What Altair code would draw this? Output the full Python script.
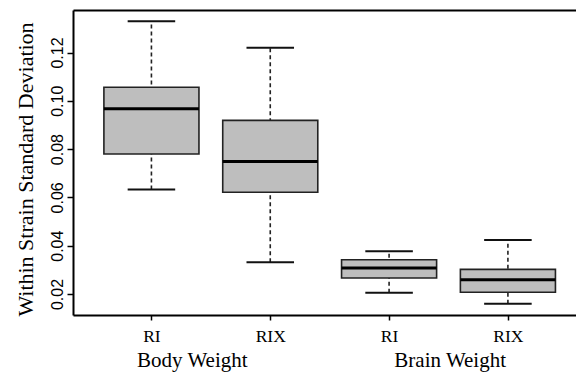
import json
import altair as alt
import pandas as pd

# ---- data ----
groups = ["Body Weight", "Body Weight", "Brain Weight", "Brain Weight"]
strains = ["RI", "RIX", "RI", "RIX"]
lower = [0.0633, 0.0331, 0.0205, 0.0160]
q1 = [0.0780, 0.0621, 0.0266, 0.0207]
median = [0.0967, 0.0749, 0.0308, 0.0259]
q3 = [0.1056, 0.0919, 0.0342, 0.0302]
upper = [0.1329, 0.1220, 0.0377, 0.0424]

y_ticks = [0.02, 0.04, 0.06, 0.08, 0.10, 0.12]
group_names = ["Body Weight", "Brain Weight"]
group_label_pos = [1.34, 3.51]

df = pd.DataFrame({
    "group": groups, "strain": strains,
    "lower": lower, "q1": q1, "median": median, "q3": q3, "upper": upper,
})
df["pos"] = range(1, len(df) + 1)

SERIF = "Liberation Serif"
SANS = "Liberation Sans"

xscale = alt.Scale(domain=[0.34, 4.573], nice=False, zero=False)
yscale = alt.Scale(domain=[0.0113, 0.1376], nice=False, zero=False)

yaxis = alt.Axis(
    values=y_ticks, format=".2f", grid=False,
    labelAngle=270, labelAlign="center", labelBaseline="alphabetic",
    labelPadding=5, labelFont=SANS, labelFontSize=16, labelColor="black",
    tickSize=6, tickColor="black", tickWidth=1.5,
    domainColor="black", domainWidth=2,
    title="Within Strain Standard Deviation", titleFont=SERIF, titleFontSize=22,
    titleFontWeight="normal", titleColor="black", titleAngle=270,
    titleX=-41, titleY=159, titleAlign="center", titleBaseline="alphabetic",
)

def Y(field):
    return alt.Y(f"{field}:Q", scale=yscale, axis=yaxis)

base = alt.Chart(df).transform_calculate(
    bl="datum.pos - 0.4", br="datum.pos + 0.4",
    cl="datum.pos - 0.2", cr="datum.pos + 0.2",
)

whisker = base.mark_rule(color="#222", strokeWidth=1.6, strokeDash=[4, 3]).encode(
    x=alt.X("pos:Q", scale=xscale, axis=None), y=Y("lower"), y2="upper:Q")

cap_low = base.mark_rule(color="#111", strokeWidth=2).encode(
    x=alt.X("cl:Q", scale=xscale, axis=None), x2="cr:Q", y=Y("lower"))
cap_up = base.mark_rule(color="#111", strokeWidth=2).encode(
    x=alt.X("cl:Q", scale=xscale, axis=None), x2="cr:Q", y=Y("upper"))

box = base.mark_rect(fill="#bebebe", stroke="#222", strokeWidth=1.6).encode(
    x=alt.X("bl:Q", scale=xscale, axis=None), x2="br:Q", y=Y("q1"), y2="q3:Q")

med = base.mark_rule(color="black", strokeWidth=3).encode(
    x=alt.X("bl:Q", scale=xscale, axis=None), x2="br:Q", y=Y("median"))

# main bottom axis (strain labels)
main_axis = base.mark_point(opacity=0).encode(
    x=alt.X("pos:Q", scale=xscale, axis=alt.Axis(
        values=[1, 2, 3, 4], labelExpr=f"{json.dumps(strains)}[datum.value - 1]",
        grid=False, title=None, orient="bottom",
        tickSize=5, tickColor="black", tickWidth=1.5,
        domainColor="black", domainWidth=2,
        labelFont=SERIF, labelFontSize=17.5, labelColor="black",
        labelBaseline="alphabetic", labelPadding=21, labelAlign="center",
        labelFlush=False, labelOverlap=False, labelBound=False)),
    y=Y("median"))

# group labels
group_axis = base.mark_point(opacity=0).encode(
    x=alt.X("pos:Q", scale=xscale, axis=alt.Axis(
        values=group_label_pos,
        labelExpr=f"datum.value < 2.5 ? {json.dumps(group_names[0])} : {json.dumps(group_names[1])}",
        grid=False, title=None, orient="bottom", offset=47,
        domain=False, ticks=False, tickSize=0,
        labelFont=SERIF, labelFontSize=21, labelColor="black",
        labelBaseline="alphabetic", labelPadding=4, labelAlign="center",
        labelFlush=False, labelOverlap=False, labelBound=False)),
    y=Y("median"))

# top border line
top_axis = base.mark_point(opacity=0).encode(
    x=alt.X("pos:Q", scale=xscale, axis=alt.Axis(
        orient="top", grid=False, title=None, labels=False, ticks=False,
        domainColor="black", domainWidth=2)),
    y=Y("median"))

chart = alt.layer(
    whisker, cap_low, cap_up, box, med, main_axis, group_axis, top_axis
).resolve_axis(x="independent").properties(
    width=503, height=305,
    autosize=alt.AutoSizeParams(type="none"),
    padding={"left": 65, "top": 2, "right": 0, "bottom": 57},
    background="white",
).configure_view(stroke=None)

chart.save("out.html", embed_options={"renderer": "svg", "actions": False})
